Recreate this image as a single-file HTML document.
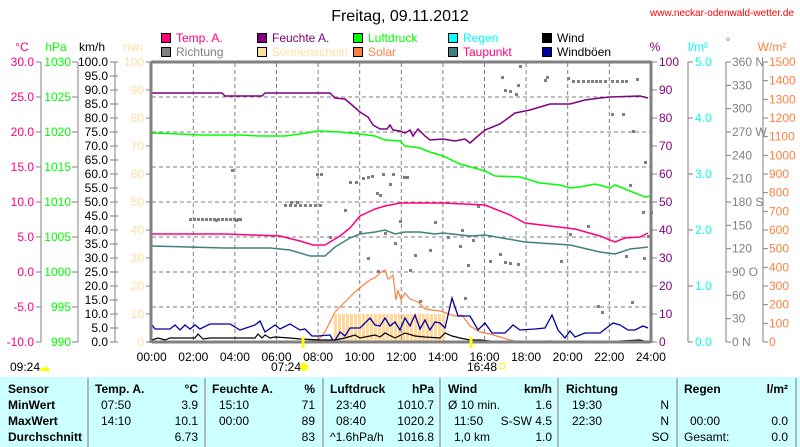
<!DOCTYPE html>
<html><head><meta charset="utf-8"><style>
body{margin:0;background:#fff;width:800px;height:447px;overflow:hidden;font-family:"Liberation Sans",sans-serif}
svg{display:block}
text{font-family:"Liberation Sans",sans-serif;font-size:12px}
</style></head><body>
<svg id="s" width="800" height="447" xmlns="http://www.w3.org/2000/svg">
<rect x="0" y="377" width="800" height="70" fill="#ccffff"/>
<text x="400" y="21" text-anchor="middle" style="font-size:16px">Freitag, 09.11.2012</text>
<text x="794" y="16" text-anchor="end" fill="#ff0000" style="font-size:10px">www.neckar-odenwald-wetter.de</text>
<g id="g"></g>
</svg>
<script>
const g=document.getElementById('g');let h='';
const L=(x1,y1,x2,y2,c,w,d)=>h+=`<line x1="${x1}" y1="${y1}" x2="${x2}" y2="${y2}" stroke="${c}" stroke-width="${w||1}"${d?` stroke-dasharray="${d}"`:''}/>`;
const T=(x,y,t,c,a,st)=>h+=`<text x="${x}" y="${y}" fill="${c||'#000'}" text-anchor="${a||'start'}"${st?` style="${st}"`:''}>${t}</text>`;
const P=(pts,c,w)=>h+=`<polyline points="${pts}" fill="none" stroke="${c}" stroke-width="${w||1.2}"/>`;
const Y=v=>342-v*2.8;
const leg=[[160,'#ff0080','Temp. A.','#ff0080'],[256,'#800080','Feuchte A.','#800080'],[352,'#00ff00','Luftdruck','#00ff00'],[447,'#00ffff','Regen','#00ffff'],[541,'#000','Wind','#000']];
const leg2=[[160,'#808080','Richtung','#808080'],[256,'#ffe0a0','Sonnenschein','#ffe0a0'],[352,'#ff8040','Solar','#ff8040'],[447,'#408080','Taupunkt','#ff0080'],[541,'#0000a0','Windböen','#000']];
leg.forEach(l=>{h+=`<rect x="${l[0]+1.5}" y="33.5" width="9" height="9" fill="${l[1]}" stroke="#000"/>`;T(l[0]+16,42,l[2],l[3]);});
leg2.forEach(l=>{h+=`<rect x="${l[0]+1.5}" y="47.5" width="9" height="9" fill="${l[1]}" stroke="#000"/>`;T(l[0]+16,56,l[2],l[3]);});
T(22,51,'°C','#ff0080','middle');T(56,51,'hPa','#00ff00','middle');T(92,51,'km/h','#000','middle');T(133,51,'min','#ffe0a0','middle');
T(655,51,'%','#800080','middle');T(698,51,'l/m²','#00ffff','middle');T(728,46,'°','#808080','middle');T(772,51,'W/m²','#ff8040','middle');
L(41,62,41,342,'#808080');L(78,62,78,342,'#808080');L(115,62,115,342,'#808080');
for(let i=0;i<=8;i++){let y=Y(i*12.5);L(36,y,41,y,'#808080');T(34,y+4,(-10+i*5).toFixed(1),'#ff0080','end');L(72,y,78,y,'#808080');T(71,y+4,990+i*5,'#00ff00','end');}
for(let i=0;i<=20;i++){let y=Y(i*5);L(110,y,118,y,'#808080');T(108,y+4,(i*5).toFixed(1),'#000','end');}
for(let i=0;i<=10;i++){let y=Y(i*10);L(146,y,151,y,'#808080');T(144,y+4,i*10,'#ffe0a0','end');}
L(688,62,688,342,'#808080');L(726,62,726,342,'#808080');L(763,62,763,342,'#808080');
for(let i=0;i<=10;i++){let y=Y(i*10);L(652,y,657,y,'#808080');T(659,y+4,i*10,'#800080');}
for(let i=0;i<=5;i++){let y=Y(i*20);L(688,y,693,y,'#808080');T(695,y+4,i.toFixed(1),'#00ffff');}
const dl={0:' N',3:' O',6:' S',9:' W',12:' N'};
for(let i=0;i<=12;i++){let y=342-i*280/12;L(726,y,731,y,'#808080');T(732,y+4,i*30+(dl[i]||''),'#808080');}
for(let i=0;i<=15;i++){let y=342-i*280/15;L(763,y,768,y,'#808080');T(769,y+4,i*100,'#ff8040');}
for(let i=1;i<12;i++){let x=151.7+i*41.6;L(x,63,x,341,'#808080',1,'4,3');}
for(let i=1;i<8;i++){let y=62+i*35;L(152,y,650,y,'#808080',1,'4,3');}
for(let x=334;x<=443;x+=4)h+=`<rect x="${x}" y="314" width="3" height="28" fill="#ffd89a"/>`;
const dots=[[190,219],[194,219],[198,219],[202,219],[206,219],[210,219],[214,219],[218,219],[222,219],[226,219],[230,219],[234,219],[238,219],[216,220],[232,170],[236,220],[240,219],[285,205],[290,205],[295,205],[300,205],[305,205],[310,205],[315,205],[320,205],[291,202],[297,202],[350,182],[356,182],[363,178],[368,177],[372,176],[377,193],[380,195],[383,174],[390,184],[393,174],[404,177],[407,177],[317,174],[321,174],[330,237],[345,210],[360,232],[368,258],[378,271],[385,233],[395,243],[400,221],[410,270],[415,255],[430,250],[435,222],[448,237],[460,246],[462,230],[468,265],[473,240],[478,206],[490,261],[500,254],[505,262],[510,263],[518,264],[420,301],[465,298],[510,91],[502,77],[505,90],[518,85],[520,66],[516,94],[547,77],[545,80],[568,78],[573,81],[578,81],[583,81],[588,81],[592,81],[596,81],[600,81],[605,81],[612,81],[617,81],[622,81],[626,81],[637,79],[612,114],[623,114],[633,131],[645,162],[630,185],[643,212],[651,212],[561,261],[570,234],[588,226],[598,306],[626,256],[632,302],[644,258],[602,312],[648,236]];
dots.forEach(d=>h+=`<rect x="${d[0]-1}" y="${d[1]-1}" width="3" height="3" fill="#808080"/>`);
P('152,93 222,93 225,96 262,96 265,93 300,93 330,93 335,98 345,99 352,105 360,112 368,117 373,125 380,129 387,129 390,125 393,130 400,131 405,133 410,130 413,136 418,129 425,136 430,140 443,139 455,141 465,139 470,143 478,136 485,130 500,124 515,113 530,110 550,104 570,104 585,100 600,98 610,97 640,96 648,98','#800080',1.5);
P('152,133 180,134 200,135 240,135 260,136 285,136 300,134 318,131 340,132 360,134 375,136 385,140 400,141 405,146 420,148 430,152 443,156 460,164 485,171 495,176 520,177 540,183 560,185 570,188 580,187 595,184 610,188 615,185 630,191 645,197 650,196','#00ff00',1.5);
P('152,234 225,234 280,236 300,241 313,245 325,245 340,236 350,228 360,216 375,209 385,206 400,203 420,203 443,203 485,205 510,215 525,223 550,226 575,229 600,236 615,242 625,238 640,237 648,233','#ff0080',1.5);
P('152,246 225,248 270,248 290,250 310,256 325,256 335,247 350,238 360,234 375,232 385,230 395,234 405,232 420,232 435,234 443,233 470,236 485,235 525,242 570,245 600,252 615,254 630,249 648,247','#408080',1.5);
P('310,341 318,340 325,332 335,312 345,302 355,292 362,286 370,280 376,277 380,273 385,270 388,279 390,278 393,275 396,300 398,290 401,300 405,293 410,299 418,302 425,309 432,310 440,311 443,312 455,316 462,315 470,326 480,332 490,334 500,337 510,340 520,342','#ff8040',1.2);
P('152,325 155,329 170,329 175,325 180,330 185,325 190,329 195,325 200,329 210,324 230,324 240,330 255,325 260,321 265,332 275,325 280,329 290,324 300,330 305,329 312,336 318,336 330,335 334,342 340,332 345,336 350,328 360,328 370,318 375,325 380,326 385,318 390,326 395,322 400,330 405,318 410,326 415,315 420,329 425,320 430,330 435,322 440,323 445,328 452,298 458,316 470,316 478,330 485,323 492,333 505,333 513,325 520,330 535,329 545,328 552,315 558,330 565,338 570,331 575,337 585,333 600,333 613,323 620,325 628,330 635,330 643,326 648,328','#0000a0',1.3);
P('152,340 158,338 165,340 170,338 195,338 198,334 203,339 210,338 255,338 258,334 262,338 265,335 270,338 275,337 290,338 300,339 320,340 335,340 345,338 355,335 360,338 375,335 380,337 385,333 395,338 405,333 415,336 425,337 440,338 445,333 452,336 460,338 470,340 480,340 500,342 540,342 550,341 560,342 600,342 640,340 648,342','#000',1.2);
L(152,342,650,342,'#808080',3);L(151,62,151,343,'#808080',3);L(151,62,652,62,'#808080',3);L(651,62,651,343,'#808080',3);
L(303,337,303,348,'#ffff00',3);L(471,337,471,348,'#ffff00',3);
for(let i=0;i<=12;i++)T(151.7+i*41.6,361,String(i*2).padStart(2,'0')+':00','#000','middle');
T(10,371,'09:24');h+=`<path d="M40,371 a5,4 0 0 1 10,0z" fill="#ffff00"/>`;
T(271,371,'07:24');h+=`<circle cx="304" cy="367" r="4" fill="#ffff00"/>`;
T(467,371,'16:48');h+=`<rect x="499.5" y="363.5" width="5" height="5" fill="none" stroke="#ffff00"/>`;
[88,205,323,440,558,677,796].forEach(x=>L(x,378,x,447,'#a0a0a0',1.5));
const B='font-weight:bold';
T(8,393,'Sensor','#000','start',B);T(8,409,'MinWert','#000','start',B);T(8,425,'MaxWert','#000','start',B);T(8,441,'Durchschnitt','#000','start',B);
T(95,393,'Temp. A.','#000','start',B);T(198,393,'°C','#000','end',B);
T(101,409,'07:50');T(198,409,'3.9','#000','end');T(101,425,'14:10');T(198,425,'10.1','#000','end');T(198,441,'6.73','#000','end');
T(212,393,'Feuchte A.','#000','start',B);T(315,393,'%','#000','end',B);
T(219,409,'15:10');T(315,409,'71','#000','end');T(219,425,'00:00');T(315,425,'89','#000','end');T(315,441,'83','#000','end');
T(330,393,'Luftdruck','#000','start',B);T(434,393,'hPa','#000','end',B);
T(336,409,'23:40');T(434,409,'1010.7','#000','end');T(336,425,'08:40');T(434,425,'1020.2','#000','end');T(330,441,'^1.6hPa/h');T(434,441,'1016.8','#000','end');
T(448,393,'Wind','#000','start',B);T(552,393,'km/h','#000','end',B);
T(448,409,'Ø 10 min.');T(552,409,'1.6','#000','end');T(454,425,'11:50');T(552,425,'S-SW 4.5','#000','end');T(454,441,'1,0 km');T(552,441,'1.0','#000','end');
T(566,393,'Richtung','#000','start',B);T(572,409,'19:30');T(669,409,'N','#000','end');T(572,425,'22:30');T(669,425,'N','#000','end');T(669,441,'SO','#000','end');
T(684,393,'Regen','#000','start',B);T(788,393,'l/m²','#000','end',B);
T(690,425,'00:00');T(788,425,'0.0','#000','end');T(684,441,'Gesamt:');T(788,441,'0.0','#000','end');
g.innerHTML=h;
</script>
</body></html>
